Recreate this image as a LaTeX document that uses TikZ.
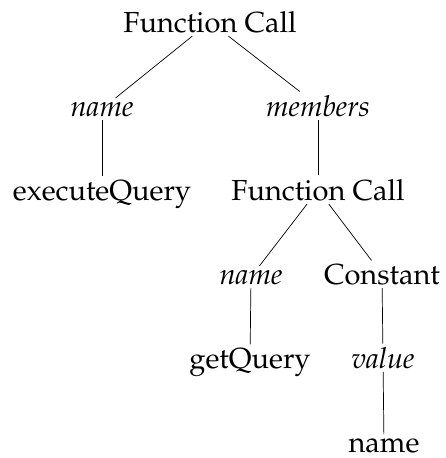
\documentclass[tikz,border=0pt]{standalone}
\usepackage[T1]{fontenc}
\usepackage{palatino}
\begin{document}
\begin{tikzpicture}[x=1pt,y=-1pt,
  every node/.style={anchor=base,font=\fontsize{29}{34}\selectfont},
  role/.style={font=\fontsize{29}{34}\selectfont\itshape},
  edge/.style={draw,line width=0.7pt}]
\useasboundingbox (0,0) rectangle (445,458);
% level 1
\node (call)   at (210,32) {Function Call};
% level 2
\node[role] (fname) at (102,116) {name};
\node[role] (mem)   at (318,116) {members};
% level 3
\node (exec)   at (102,200) {executeQuery};
\node (call2)  at (318,200) {Function Call};
% level 4
\node[role] (fname2) at (251,284) {name};
\node (const)  at (382,284) {Constant};
% level 5
\node (getq)   at (250,368) {getQuery};
\node[role] (val) at (383,368) {value};
% level 6
\node (lit)    at (384,452) {name};
% edges
\path[edge] (call) -- (fname);
\path[edge] (call) -- (mem);
\path[edge] (fname) -- (exec);
\path[edge] (mem) -- (call2);
\path[edge] (call2) -- (fname2);
\path[edge] (call2) -- (const);
\path[edge] (fname2) -- (getq);
\path[edge] (const) -- (val);
\path[edge] (val) -- (lit);
\end{tikzpicture}
\end{document}
